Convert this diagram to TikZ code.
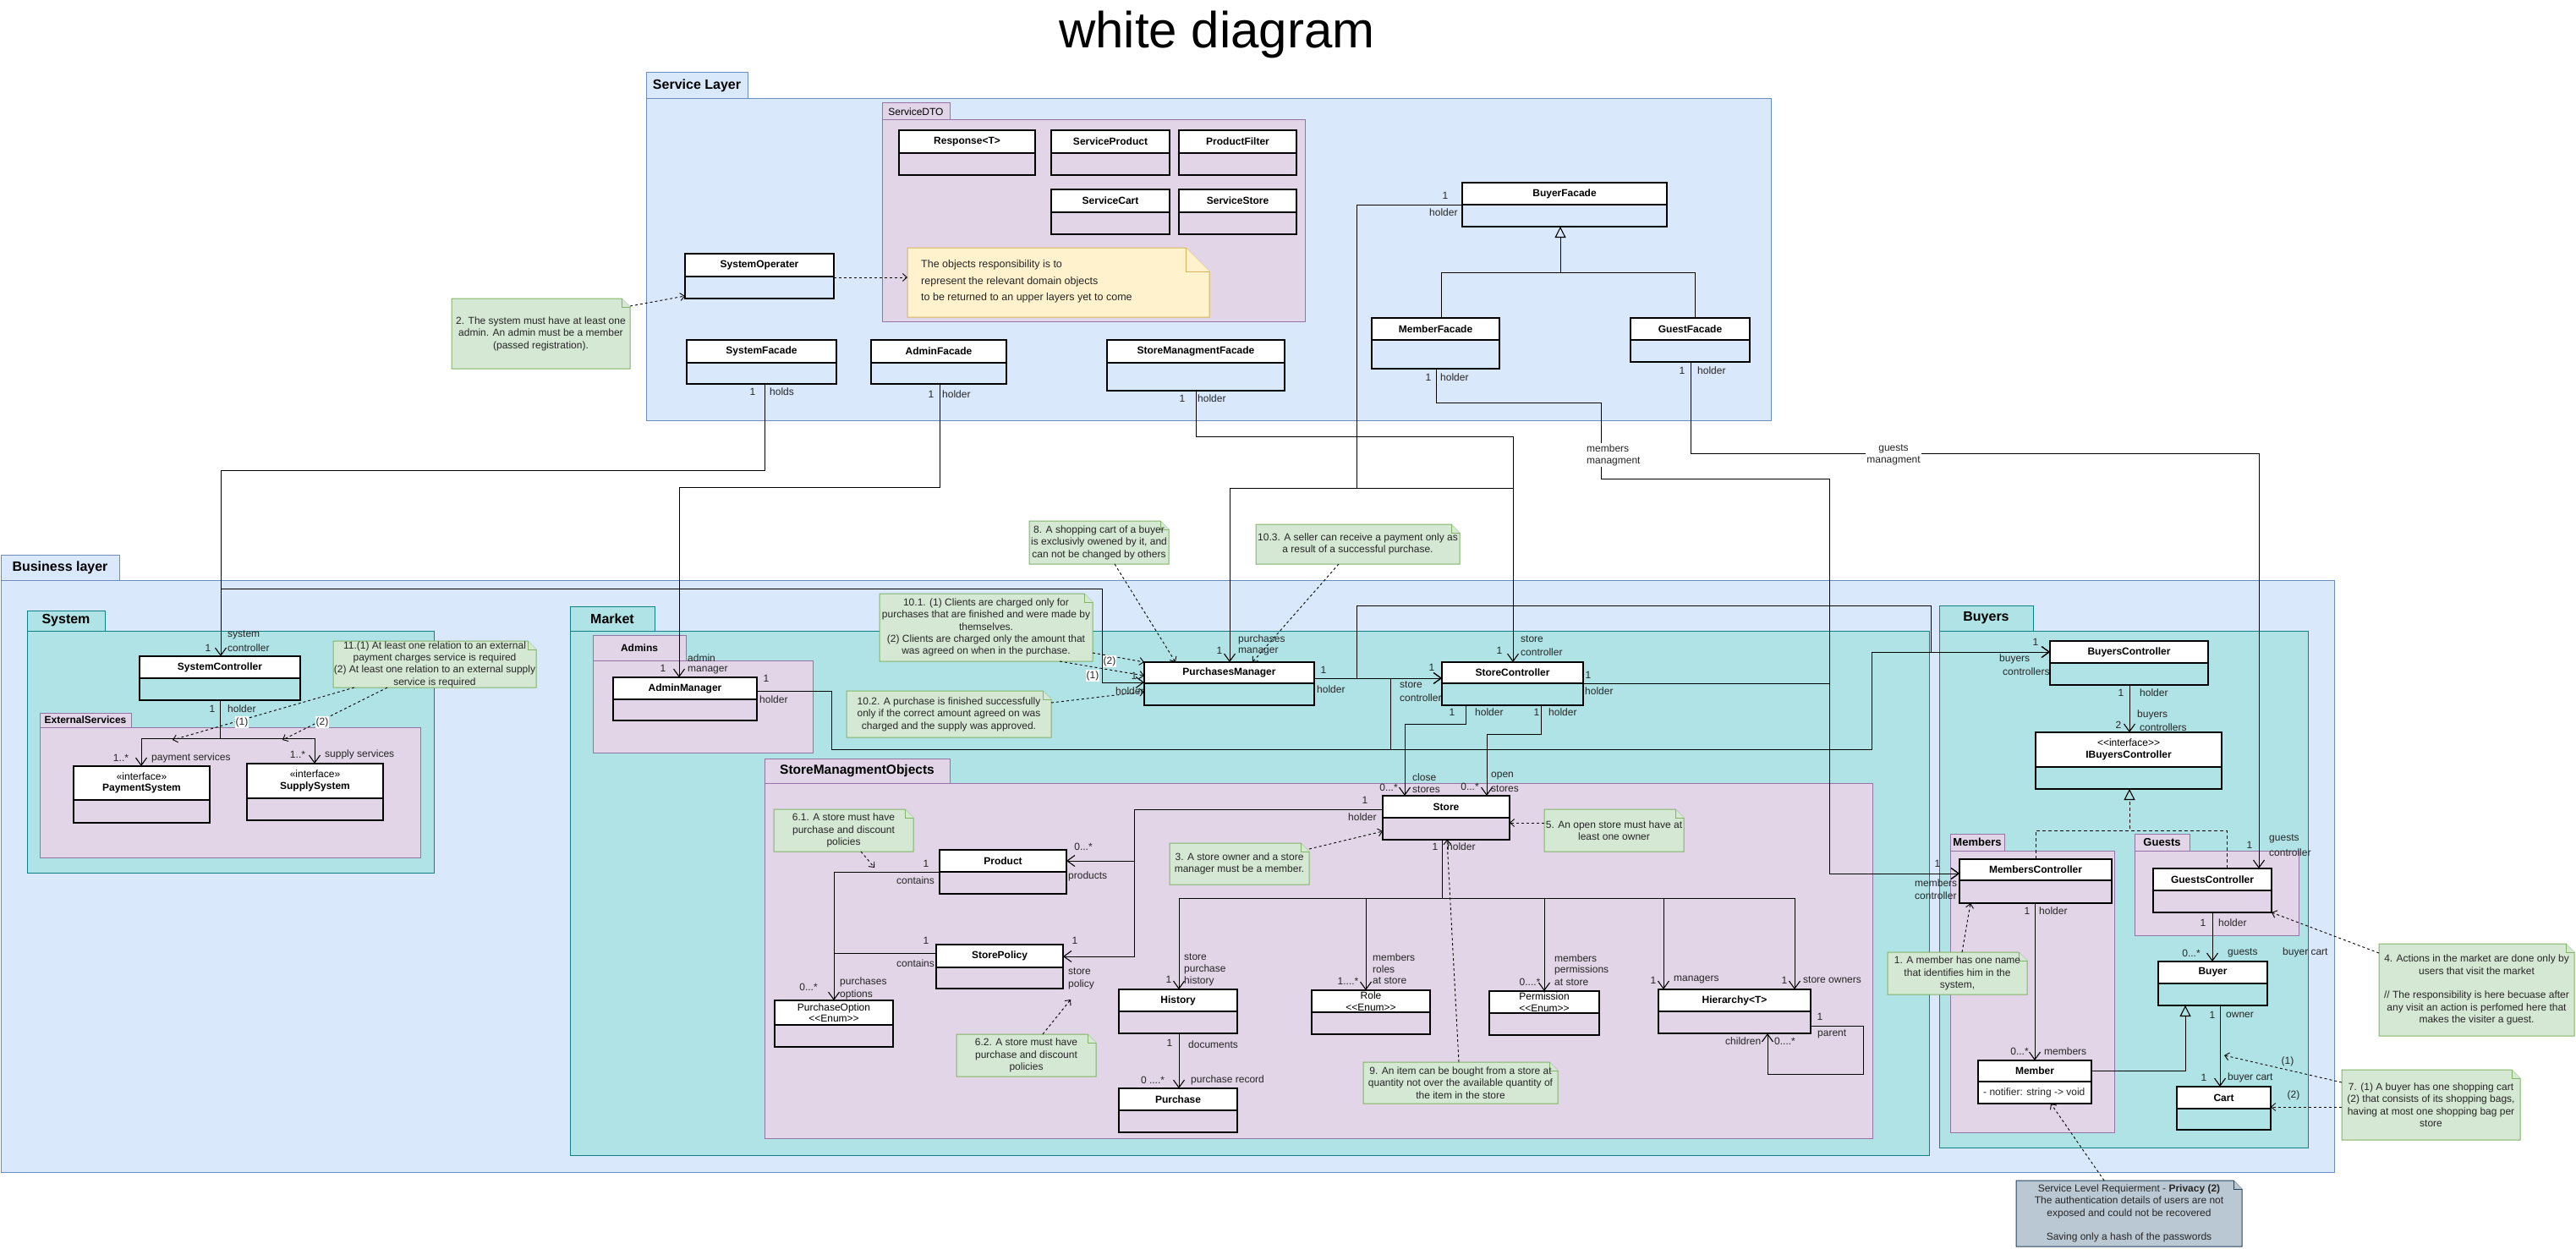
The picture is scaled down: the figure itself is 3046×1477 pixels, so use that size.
\documentclass[tikz,border=0pt]{standalone}
\usepackage{fontspec}
\setmainfont{Liberation Sans}
\usetikzlibrary{arrows.meta}
\definecolor{layerF}{HTML}{DAE8FC}\definecolor{layerD}{HTML}{6C8EBF}
\definecolor{tealF}{HTML}{B0E3E6}\definecolor{tealD}{HTML}{0E8088}
\definecolor{purF}{HTML}{E1D5E7}\definecolor{purD}{HTML}{9673A6}
\definecolor{grnF}{HTML}{D5E8D4}\definecolor{grnD}{HTML}{82B366}
\definecolor{yelF}{HTML}{FFF2CC}\definecolor{yelD}{HTML}{D6B656}
\definecolor{gryF}{HTML}{BAC8D3}\definecolor{gryD}{HTML}{23445D}
\newcommand\Fs[2]{\fontsize{#1}{#2}\selectfont}
\newcommand\LL{<{}<}
\newcommand\GG{>{}>}
\newcounter{lbc}
\newcommand\lb[4][]{\stepcounter{lbc}\node[lbl,anchor=west,#1] (lb\arabic{lbc}) at (#2,#3) {#4};}
\newcommand\lc[4][]{\stepcounter{lbc}\node[lbl,#1] (lb\arabic{lbc}) at (#2,#3) {#4};}
% name, x1, tabtop, tabright, bodytop, x2, y2, style, label
\newcommand\pkgbox[9]{%
  \path[#8] (#2,#3) rectangle (#4,#5);
  \node[#8,anchor=north west,inner sep=0pt,outer sep=0pt,minimum width={(#6-#2)*1pt},minimum height={(#7-#5)*1pt}] (#1) at (#2,#5) {};
  \node[inner sep=0pt] (#1-l) at ({(#2+#4)/2},{(#3+#5)/2}) {#9};}
% [frame opts] name, x1, y1, x2, ydiv, y2, title
\newcommand\umlcls[8][]{%
  \fill[white] (#3,#4) rectangle (#5,#6);
  \node[clsframe,#1,minimum width={(#5-#3)*1pt},minimum height={(#7-#4)*1pt}] (#2) at (#3,#4) {};
  \draw[line width=1.3pt] (#3,#6) -- (#5,#6);
  \node[clsname] (#2-t) at ({(#3+#5)/2},{(#4+#6)/2}) {#8};}
% name, x1, y1, x2, y2, fold, style, text
\newcommand\umlnote[8]{%
  \filldraw[#7,line width=1pt] (#2,#3) -- (#4-#6,#3) -- (#4,#3+#6) -- (#4,#5) -- (#2,#5) -- cycle;
  \draw[#7,line width=1pt] (#4-#6,#3) -- (#4-#6,#3+#6) -- (#4,#3+#6);
  \node[anchor=north west,inner sep=0pt,outer sep=0pt,minimum width={(#4-#2)*1pt},minimum height={(#5-#3)*1pt}] (#1) at (#2,#3) {};
  \node[ntxt] (#1-t) at ({(#2+#4)/2},{(#3+#5)/2}) {#8};}
\begin{document}
\begin{tikzpicture}[x=1pt,y=-1pt,
 lyr/.style={fill=layerF,draw=layerD,line width=1pt},
 tlp/.style={fill=tealF,draw=tealD,line width=1pt},
 pur/.style={fill=purF,draw=purD,line width=1pt},
 grn/.style={fill=grnF,draw=grnD},
 yel/.style={fill=yelF,draw=yelD},
 gry/.style={fill=gryF,draw=gryD},
 clsframe/.style={draw=black,line width=1.3pt,anchor=north west,inner sep=0pt,outer sep=0pt},
 clsname/.style={font=\bfseries\Fs{12}{13.5},align=center,inner sep=0pt},
 lbl/.style={font=\Fs{12}{14},text=black!85,inner sep=0pt},
 ntxt/.style={font=\Fs{12}{14.4},align=center,inner sep=0pt,text=black!85},
 con/.style={draw=black,line width=1pt},
 assoc/.style={con,-{Straight Barb[length=9pt,width=13pt,line width=1.1pt]}},
 gen/.style={con,-{Triangle[open,length=13pt,width=13pt,line width=1.1pt]}},
 realz/.style={con,dash pattern=on 4pt off 3pt,-{Triangle[open,length=13pt,width=13pt,line width=1.1pt]}},
 ndash/.style={draw=black,line width=0.9pt,dash pattern=on 3pt off 3pt,-{Straight Barb[length=5pt,width=9pt]}},
 tag/.style={lbl,fill=white,inner sep=1pt},
]
\fill[white] (0,0) rectangle (3046,1477);
\useasboundingbox (0,0) rectangle (3046,1477);
\node[font=\Fs{60}{72}] (title) at (1439,41) {white diagram};

% ---------------- packages
\pkgbox{sl}{764}{86}{884}{117}{2094}{497}{lyr}{\bfseries\Fs{16}{19}Service Layer}
\pkgbox{sdto}{1043}{122}{1123}{142}{1543}{380}{pur}{\Fs{12}{14}ServiceDTO}
\pkgbox{bl}{1}{656}{141}{686}{2760}{1386}{lyr}{\bfseries\Fs{16}{19}Business layer}
\pkgbox{sys}{32}{722}{124}{746}{513}{1032}{tlp}{\bfseries\Fs{16}{19}System}
\pkgbox{ext}{47}{843}{155}{860}{497}{1014}{pur}{\bfseries\Fs{12}{14}ExternalServices}
\pkgbox{mkt}{674}{717}{774}{746}{2281}{1366}{tlp}{\bfseries\Fs{16}{19}Market}
\pkgbox{adm}{701}{751}{811}{781}{961}{890}{pur}{\bfseries\Fs{12}{14}Admins}
\pkgbox{smo}{904}{897}{1123}{926}{2214}{1346}{pur}{\bfseries\Fs{15.5}{19}StoreManagmentObjects}
\pkgbox{buy}{2293}{716}{2404}{746}{2729}{1357}{tlp}{\bfseries\Fs{16}{19}Buyers}
\pkgbox{mem}{2306}{986}{2370}{1006}{2500}{1339}{pur}{\bfseries\Fs{13}{15}Members}
\pkgbox{gst}{2524}{986}{2589}{1006}{2718}{1106}{pur}{\bfseries\Fs{13}{15}Guests}

% ---------------- classes
\umlcls{resp}{1063}{154}{1224}{181}{207}{Response<T>}
\umlcls{sprod}{1243}{154}{1383}{181}{207}{ServiceProduct}
\umlcls{pfilt}{1394}{154}{1533}{181}{207}{ProductFilter}
\umlcls{scart}{1243}{224}{1383}{251}{277}{ServiceCart}
\umlcls{sstore}{1394}{224}{1533}{251}{277}{ServiceStore}
\umlcls{sysop}{810}{300}{986}{327}{353}{SystemOperater}
\umlcls{sysfac}{812}{402}{989}{429}{454}{SystemFacade}
\umlcls{adminfac}{1030}{402}{1190}{429}{454}{AdminFacade}
\umlcls{smfac}{1309}{402}{1519}{429}{462}{StoreManagmentFacade}
\umlcls{buyerfac}{1729}{216}{1971}{242}{268}{BuyerFacade}
\umlcls{memfac}{1622}{376}{1773}{402}{436}{MemberFacade}
\umlcls{guestfac}{1928}{376}{2069}{402}{428}{GuestFacade}
\umlcls{syscon}{165}{776}{355}{802}{828}{SystemController}
\umlcls{paysys}{87}{906}{248}{946}{973}{{\mdseries «interface»}\\PaymentSystem}
\umlcls{supsys}{292}{903}{453}{944}{970}{{\mdseries «interface»}\\SupplySystem}
\umlcls{adminmgr}{725}{801}{895}{827}{852}{AdminManager}
\umlcls{pm}{1353}{783}{1554}{808}{834}{PurchasesManager}
\umlcls{sc}{1705}{783}{1872}{808}{834}{StoreController}
\umlcls{store}{1635}{941}{1785}{967}{993}{Store}
\umlcls{product}{1111}{1005}{1261}{1031}{1057}{Product}
\umlcls{policy}{1107}{1117}{1257}{1144}{1169}{StorePolicy}
\umlcls{popt}{916}{1183}{1056}{1212}{1238}{\mdseries PurchaseOption\\\mdseries \LL Enum\GG}
\umlcls{history}{1323}{1170}{1463}{1196}{1222}{History}
\umlcls{purchase}{1323}{1287}{1463}{1313}{1339}{Purchase}
\umlcls{role}{1551}{1171}{1691}{1197}{1223}{\mdseries Role\\\mdseries \LL Enum\GG}
\umlcls{perm}{1761}{1172}{1891}{1198}{1224}{\mdseries Permission\\\mdseries \LL Enum\GG}
\umlcls{hier}{1961}{1170}{2141}{1196}{1222}{Hierarchy<T>}
\umlcls{buyersctrl}{2424}{758}{2611}{784}{810}{BuyersController}
\umlcls{ibc}{2407}{866}{2627}{907}{933}{{\mdseries \LL interface\GG}\\IBuyersController}
\umlcls{memctrl}{2317}{1016}{2497}{1041}{1068}{MembersController}
\umlcls{guestctrl}{2546}{1027}{2686}{1053}{1079}{GuestsController}
\umlcls[fill=white]{member}{2339}{1254}{2473}{1279}{1305}{Member}
\node[lbl,anchor=west] (member-a) at (2345,1292) {- notifier: string -> void};
\umlcls{buyer}{2552}{1137}{2681}{1163}{1189}{Buyer}
\umlcls{cart}{2574}{1285}{2685}{1311}{1336}{Cart}

% ---------------- notes
\umlnote{n2}{534}{353}{745}{436}{10}{grn}{2. The system must have at least one\\admin. An admin must be a member\\(passed registration).}
\umlnote{ny}{1073}{293}{1430}{375}{28}{yel}{}
\node[ntxt,align=left,anchor=west,font=\Fs{12.5}{19.5}] (ny-txt) at (1089,333) {The objects responsibility is to\\represent the relevant domain objects\\to be returned to an upper layers yet to come};
\umlnote{n11}{394}{758}{634}{813}{10}{grn}{11.(1) At least one relation to an external\\payment charges service is required\\(2) At least one relation to an external supply\\service is required}
\umlnote{n8}{1217}{616}{1382}{667}{10}{grn}{8. A shopping cart of a buyer\\is exclusivly owened by it, and\\can not be changed by others}
\umlnote{n103}{1485}{620}{1726}{667}{10}{grn}{10.3. A seller can receive a payment only as\\a result of a successful purchase.}
\umlnote{n101}{1040}{702}{1292}{782}{10}{grn}{10.1. (1) Clients are charged only for\\purchases that are finished and were made by\\themselves.\\(2) Clients are charged only the amount that\\was agreed on when in the purchase.}
\umlnote{n102}{1001}{817}{1243}{872}{10}{grn}{10.2. A purchase is finished successfully\\only if the correct amount agreed on was\\charged and the supply was approved.}
\umlnote{n61}{915}{957}{1080}{1007}{10}{grn}{6.1. A store must have\\purchase and discount\\policies}
\umlnote{n62}{1131}{1223}{1296}{1273}{10}{grn}{6.2. A store must have\\purchase and discount\\policies}
\umlnote{n3}{1383}{997}{1548}{1046}{10}{grn}{3. A store owner and a store\\manager must be a member.}
\umlnote{n5}{1826}{957}{1991}{1007}{10}{grn}{5. An open store must have at\\least one owner}
\umlnote{n9}{1612}{1256}{1842}{1305}{10}{grn}{9. An item can be bought from a store at\\quantity not over the available quantity of\\the item in the store}
\umlnote{n1}{2232}{1126}{2397}{1176}{10}{grn}{1. A member has one name\\that identifies him in the\\system,}
\umlnote{n4}{2813}{1116}{3044}{1225}{10}{grn}{4. Actions in the market are done only by\\users that visit the market\\[14.4pt]// The responsibility is here becuase after\\any visit an action is perfomed here that\\makes the visiter a guest.}
\umlnote{n7}{2769}{1265}{2980}{1348}{10}{grn}{7. (1) A buyer has one shopping cart\\(2) that consists of its shopping bags,\\having at most one shopping bag per\\store}
\umlnote{nsl}{2384}{1396}{2651}{1474}{10}{gry}{Service Level Requierment - \textbf{Privacy (2)}\\The authentication details of users are not\\exposed and could not be recovered\\[14pt]Saving only a hash of the passwords}

% ---------------- connectors (service -> business)
\draw[assoc] (904,0 |- sysfac.south) -- (904,556) -- (261,556) -- (261,0 |- syscon.north);
\draw[assoc] (261,0 |- syscon.north) -- (261,696) -- (1303,696) -- (1303,807) -- (pm.west |- 0,807);
\draw[assoc] (1111,0 |- adminfac.south) -- (1111,576) -- (803,576) -- (803,0 |- adminmgr.north);
\draw[assoc] (1414,0 |- smfac.south) -- (1414,516) -- (1789,516) -- (1789,0 |- sc.north);
\draw[assoc] (buyerfac.west) -- (1604,242) -- (1604,577) -- (1454,577) -- (1454,0 |- pm.north);
\draw[con] (1604,577) -- (1789,577);
\draw[assoc] (1698,0 |- memfac.south) -- (1698,476) -- (1893,476) -- (1893,566) -- (2163,566) -- (2163,1033) -- (memctrl.west |- 0,1033);
\draw[assoc] (1999,0 |- guestfac.south) -- (1999,536) -- (2671,536) -- (2671,0 |- guestctrl.north);
\node[lbl,fill=white,align=left,anchor=west,inner sep=1pt] (lmm) at (1875,538) {members\\managment};
\node[lbl,fill=white,align=center,inner sep=1pt] (lgm) at (2239,538) {guests\\managment};
% generalization in service layer
\draw[gen] (1704,0 |- memfac.north) -- (1704,322) -- (1845,322) -- (1845,0 |- buyerfac.south);
\draw[con] (2004,0 |- guestfac.north) -- (2004,322) -- (1845,322);

% ---------------- business connectors
\draw[assoc] (adminmgr.east |- 0,817) -- (983,817) -- (983,886) -- (2213,886) -- (2213,771) -- (buyersctrl.west |- 0,771);
\draw[assoc] (1644,886) -- (1644,802) -- (sc.west |- 0,802);
\draw[assoc] (pm.east |- 0,802) -- (sc.west |- 0,802);
\draw[assoc] (pm.east |- 0,802) -- (1604,802) -- (1604,716) -- (2283,716) -- (2283,771) -- (buyersctrl.west |- 0,771);
\draw[assoc] (sc.east |- 0,808) -- (2163,808) -- (2163,1033) -- (memctrl.west |- 0,1033);
\draw[assoc] (1733,0 |- sc.south) -- (1733,856) -- (1661,856) -- (1661,0 |- store.north);
\draw[assoc] (1822,0 |- sc.south) -- (1822,868) -- (1758,868) -- (1758,0 |- store.north);
\draw[assoc] (store.west |- 0,957) -- (1341,957) -- (1341,1018) -- (product.east |- 0,1018);
\draw[assoc] (store.west |- 0,957) -- (1341,957) -- (1341,1131) -- (policy.east |- 0,1131);
\draw[assoc] (product.west |- 0,1031) -- (986,1031) -- (986,0 |- popt.north);
\draw[con] (policy.west |- 0,1127) -- (986,1127);
\draw[assoc] (1705,0 |- store.south) -- (1705,1062) -- (1394,1062) -- (1394,0 |- history.north);
\draw[assoc] (1705,0 |- store.south) -- (1705,1062) -- (1615,1062) -- (1615,0 |- role.north);
\draw[assoc] (1705,0 |- store.south) -- (1705,1062) -- (1826,1062) -- (1826,0 |- perm.north);
\draw[assoc] (1705,0 |- store.south) -- (1705,1062) -- (1967,1062) -- (1967,0 |- hier.north);
\draw[assoc] (1705,0 |- store.south) -- (1705,1062) -- (2122,1062) -- (2122,0 |- hier.north);
\draw[assoc] (1394,0 |- history.south) -- (1394,0 |- purchase.north);
\draw[assoc] (hier.east |- 0,1213) -- (2203,1213) -- (2203,1270) -- (2090,1270) -- (2090,0 |- hier.south);
\draw[assoc] (260,0 |- syscon.south) -- (260,873) -- (167,873) -- (167,0 |- paysys.north);
\draw[assoc] (260,0 |- syscon.south) -- (260,873) -- (372,873) -- (372,0 |- supsys.north);
\draw[assoc] (2518,0 |- buyersctrl.south) -- (2518,0 |- ibc.north);
\draw[realz] (2407,0 |- memctrl.north) -- (2407,982) -- (2518,982) -- (2518,0 |- ibc.south);
\draw[con,dash pattern=on 4pt off 3pt] (2633,0 |- guestctrl.north) -- (2633,982) -- (2518,982);
\draw[assoc] (2406,0 |- memctrl.south) -- (2406,0 |- member.north);
\draw[assoc] (2616,0 |- guestctrl.south) -- (2616,0 |- buyer.north);
\draw[gen] (member.east |- 0,1266) -- (2584,1266) -- (2584,0 |- buyer.south);
\draw[assoc] (2625,0 |- buyer.south) -- (2625,0 |- cart.north);

% ---------------- note links
\coordinate (c11a) at (204,875);
\coordinate (c11b) at (334,875);
\coordinate (c61) at (1034,1026);
\coordinate (c62) at (1266,1182);
\coordinate (c7) at (2630,1248);
\draw[ndash] (n2.east |- 0,362) -- (sysop.west |- 0,350);
\draw[ndash] (sysop.east |- 0,328) -- (ny.west |- 0,328);
\draw[ndash] (419,0 |- n11.south) -- (c11a);
\draw[ndash] (458,0 |- n11.south) -- (c11b);
\draw[ndash] (1318,0 |- n8.south) -- (1390,0 |- pm.north);
\draw[ndash] (1583,0 |- n103.south) -- (1481,0 |- pm.north);
\draw[ndash] (n101.east |- 0,772) -- (pm.west |- 0,783);
\draw[ndash] (1253,0 |- n101.south) -- (pm.west |- 0,799);
\draw[ndash] (n102.east |- 0,831) -- (pm.west |- 0,818);
\draw[ndash] (n3.east |- 0,1004) -- (store.west |- 0,983);
\draw[ndash] (n5.west |- 0,973) -- (store.east |- 0,973);
\draw[ndash] (1018,0 |- n61.south) -- (c61);
\draw[ndash] (1233,0 |- n62.north) -- (c62);
\draw[ndash] (1725,0 |- n9.north) -- (1711,0 |- store.south);
\draw[ndash] (2320,0 |- n1.north) -- (2330,0 |- memctrl.south);
\draw[ndash] (n4.west |- 0,1127) -- (guestctrl.south east);
\draw[ndash] (n7.west |- 0,1280) -- (c7);
\draw[ndash] (n7.west |- 0,1309) -- (cart.east |- 0,1309);
\draw[ndash] (2488,0 |- nsl.north) -- (2425,0 |- member.south);

% ---------------- labels
\lc{890}{463}{1}\lb{910}{463}{holds}
\lc{1101}{466}{1}\lb{1114}{466}{holder}
\lc{1398}{471}{1}\lb{1416}{471}{holder}
\lc{1709}{231}{1}\lb{1690}{251}{holder}
\lc{1689}{446}{1}\lb{1703}{446}{holder}
\lc{1989}{438}{1}\lb{2007}{438}{holder}
\lb{269}{751}{system}\lb{269}{766}{controller}\lc{246}{766}{1}
\lc{251}{838}{1}\lb{269}{838}{holder}
\lc{143}{896}{1..*}\lb{179}{896}{payment services}
\lc{352}{892}{1..*}\lb{384}{892}{supply services}
\lc[tag]{286}{854}{(1)}\lc[tag]{381}{854}{(2)}
\lb{813}{778}{admin}\lb{813}{793}{manager}\lc{784}{790}{1}
\lc{906}{802}{1}\lb{898}{827}{holder}
\lc{1442}{769}{1}\lb{1464}{756}{purchases}\lb{1464}{771}{manager}
\lc{1565}{792}{1}\lb{1557}{815}{holder}
\lc{1341}{799}{1}\lb{1319}{817}{holder}
\lc[tag]{1312}{782}{(2)}\lc[tag]{1292}{799}{(1)}
\lc{1773}{769}{1}\lb{1798}{756}{store}\lb{1798}{771}{controller}
\lc{1693}{789}{1}\lb{1655}{810}{store}\lb{1655}{825}{controller}
\lc{1878}{798}{1}\lb{1874}{817}{holder}
\lc{1717}{842}{1}\lb{1744}{842}{holder}\lc{1817}{842}{1}\lb{1831}{842}{holder}
\lc{1642}{931}{0...*}\lb{1670}{919}{close}\lb{1670}{934}{stores}
\lc{1738}{930}{0...*}\lb{1763}{918}{open}\lb{1763}{933}{stores}
\lc{1614}{946}{1}\lb{1594}{966}{holder}\lc{1697}{1001}{1}\lb{1711}{1001}{holder}
\lc{1281}{1001}{0...*}\lb{1263}{1036}{products}\lc{1095}{1021}{1}\lb{1060}{1041}{contains}
\lc{1271}{1112}{1}\lb{1263}{1149}{store}\lb{1263}{1164}{policy}\lc{1095}{1112}{1}\lb{1060}{1139}{contains}
\lc{956}{1167}{0...*}\lb{993}{1161}{purchases}\lb{993}{1176}{options}
\lc{1382}{1158}{1}\lb{1400}{1132}{store}\lb{1400}{1146}{purchase}\lb{1400}{1160}{history}
\lc{1383}{1233}{1}\lb{1405}{1235}{documents}\lc{1363}{1277}{0 ....*}\lb{1408}{1277}{purchase record}
\lc{1594}{1160}{1....*}\lb{1623}{1132}{members}\lb{1623}{1146}{roles}\lb{1623}{1160}{at store}
\lc{1809}{1161}{0....*}\lb{1838}{1133}{members}\lb{1838}{1147}{permissions}\lb{1838}{1162}{at store}
\lc{1955}{1159}{1}\lb{1979}{1159}{managers}\lc{2110}{1159}{1}\lb{2132}{1159}{store owners}
\lc{2152}{1202}{1}\lb{2149}{1223}{parent}\lb{2040}{1231}{children}\lb{2098}{1231}{0....*}
\lc{2407}{759}{1}\lb{2364}{779}{buyers}\lb{2368}{794}{controllers}
\lc{2508}{819}{1}\lb{2530}{819}{holder}\lc{2505}{857}{2}\lb{2527}{845}{buyers}\lb{2530}{860}{controllers}
\lc{2291}{1021}{1}\lb{2264}{1044}{members}\lb{2264}{1059}{controller}
\lc{2397}{1077}{1}\lb{2411}{1077}{holder}\lc{2388}{1243}{0...*}\lb{2417}{1243}{members}
\lc{2660}{999}{1}\lb{2683}{992}{guests}\lb{2683}{1008}{controller}
\lc{2605}{1091}{1}\lb{2623}{1091}{holder}\lc{2591}{1127}{0...*}\lb{2634}{1127}{guests}
\lb{2699}{1126}{buyer cart}
\lc{2616}{1200}{1}\lb{2632}{1200}{owner}\lc{2606}{1274}{1}\lb{2634}{1274}{buyer cart}
\lc{2705}{1255}{(1)}\lc{2712}{1295}{(2)}
\end{tikzpicture}
\end{document}
